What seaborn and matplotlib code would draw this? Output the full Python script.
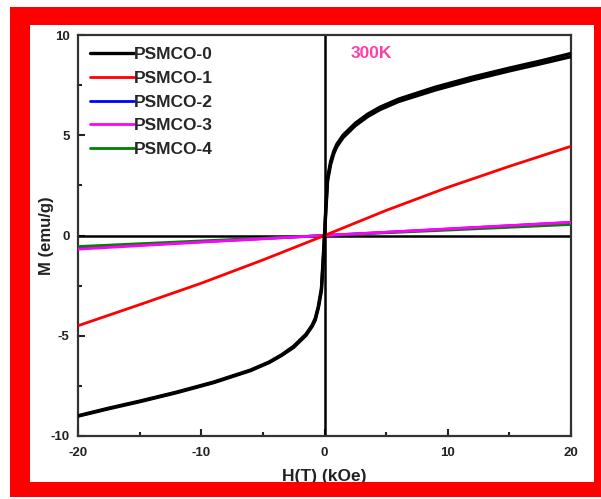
import matplotlib
matplotlib.use("Agg")
import matplotlib.pyplot as plt
from matplotlib.patches import Rectangle
import seaborn as sns

# ---- data ----
labels = ["PSMCO-0", "PSMCO-1", "PSMCO-2", "PSMCO-3", "PSMCO-4"]
colors = ["#000000", "#ff0000", "#0000ff", "#ff00ff", "#008000"]

H0 = [-20, -17.5, -15, -12, -9, -6, -4.5, -3.5, -2.5, -1.5, -1, -0.75, -0.5, -0.25, -0.1, 0,
      0.1, 0.25, 0.5, 0.75, 1, 1.5, 2.5, 3.5, 4.5, 6, 9, 12, 15, 17.5, 20]
M0_up = [-8.99, -8.61, -8.26, -7.81, -7.31, -6.71, -6.31, -5.96, -5.52, -4.92, -4.47, -4.13, -3.54, -2.65, -1.08, 0.08,
         1.28, 2.88, 3.7, 4.2, 4.55, 5.0, 5.6, 6.05, 6.4, 6.8, 7.4, 7.9, 8.35, 8.7, 9.08]
M0_dn = [-9.01, -8.64, -8.29, -7.84, -7.34, -6.74, -6.34, -5.99, -5.58, -4.98, -4.53, -4.22, -3.61, -2.75, -1.22, -0.08,
         1.12, 2.72, 3.55, 4.08, 4.43, 4.88, 5.48, 5.93, 6.28, 6.68, 7.26, 7.76, 8.21, 8.56, 8.92]

H1 = [-20, -15, -10, -5, -2, 0, 2, 5, 10, 15, 20]
M1 = [-4.5, -3.45, -2.38, -1.22, -0.49, 0, 0.5, 1.25, 2.4, 3.45, 4.45]

H234 = [-20, -10, 0, 10, 20]
M2 = [-0.64, -0.31, 0, 0.32, 0.65]
M3 = [-0.68, -0.33, 0, 0.33, 0.66]
M4 = [-0.55, -0.27, 0, 0.27, 0.55]

xticks = [-20, -10, 0, 10, 20]
yticks = [-10, -5, 0, 5, 10]

# ---- style ----
sns.set_style("ticks")
plt.rcParams["font.family"] = ["Liberation Sans", "DejaVu Sans"]
plt.rcParams["font.weight"] = "bold"
plt.rcParams["axes.unicode_minus"] = False

fig = plt.figure(figsize=(6.01, 4.99), dpi=100)
fig.patch.set_facecolor("white")
W, Hh = 601.0, 499.0

def px_rect(x0, y0, x1, y1, color):
    fig.add_artist(Rectangle((x0 / W, 1 - y1 / Hh), (x1 - x0) / W, (y1 - y0) / Hh,
                             transform=fig.transFigure, facecolor=color,
                             edgecolor="none", zorder=10))

ax = fig.add_axes([78 / W, 1 - 436 / Hh, (571 - 78) / W, (436 - 35) / Hh])

ax.axhline(0, color="black", lw=1.8, zorder=1)
ax.axvline(0, color="black", lw=1.8, zorder=1)

lw = 2.0
sns.lineplot(x=H0, y=M0_up, color=colors[0], lw=2.4, sort=False, estimator=None, ax=ax, label=labels[0], zorder=5)
sns.lineplot(x=H0, y=M0_dn, color=colors[0], lw=2.4, sort=False, estimator=None, ax=ax, zorder=5)
sns.lineplot(x=H1, y=M1, color=colors[1], lw=lw, sort=False, estimator=None, ax=ax, label=labels[1], zorder=4)
sns.lineplot(x=H234, y=M2, color=colors[2], lw=lw, sort=False, estimator=None, ax=ax, label=labels[2], zorder=3)
sns.lineplot(x=H234, y=M3, color=colors[3], lw=lw, sort=False, estimator=None, ax=ax, label=labels[3], zorder=3.2)
sns.lineplot(x=H234, y=M4, color=colors[4], lw=lw, sort=False, estimator=None, ax=ax, label=labels[4], zorder=3.1)

ax.set_xlim(-20, 20)
ax.set_ylim(-10, 10)
ax.set_xticks(xticks)
ax.set_yticks(yticks)
ax.set_xticks([-15, -5, 5, 15], minor=True)
ax.set_yticks([-7.5, -2.5, 2.5, 7.5], minor=True)
ax.tick_params(which="both", direction="in", width=1.5, color="#222222", labelsize=9.5)
ax.tick_params(axis="x", which="major", pad=8)
ax.tick_params(axis="y", which="major", pad=6)
ax.tick_params(which="major", length=5)
ax.tick_params(which="minor", length=3)
for lab in ax.get_xticklabels() + ax.get_yticklabels():
    lab.set_fontweight("bold")
    lab.set_color("#222222")
for s in ax.spines.values():
    s.set_linewidth(1.6)
    s.set_color("#333333")

ax.set_xlabel("H(T) (kOe)", fontsize=12.5, fontweight="bold", color="#222222")
ax.set_ylabel("M (emu/g)", fontsize=12, fontweight="bold", color="#222222")
ax.xaxis.set_label_coords(0.5, -(477 - 436) / (436 - 35), transform=ax.transAxes)
ax.xaxis.label.set_va("center")
ax.yaxis.set_label_coords(-(78 - 47) / (571 - 78), 0.5, transform=ax.transAxes)
ax.yaxis.label.set_va("center")

ax.text(2.1, 9.1, "300K", color="#ff3da8", fontsize=12.5, fontweight="bold",
        va="center", ha="left")

leg = ax.legend(loc="upper left", frameon=False,
                handlelength=2.5, handletextpad=0.0, labelspacing=0.49,
                borderaxespad=0.3, prop={"weight": "bold", "size": 12.5})

red = "#fe0000"
px_rect(10, 7, 601, 25, red)     # top
px_rect(10, 482, 601, 497, red)  # bottom
px_rect(10, 7, 30, 497, red)     # left
px_rect(594, 7, 601, 497, red)   # right

fig.savefig("out.png", dpi=100, facecolor="white")
